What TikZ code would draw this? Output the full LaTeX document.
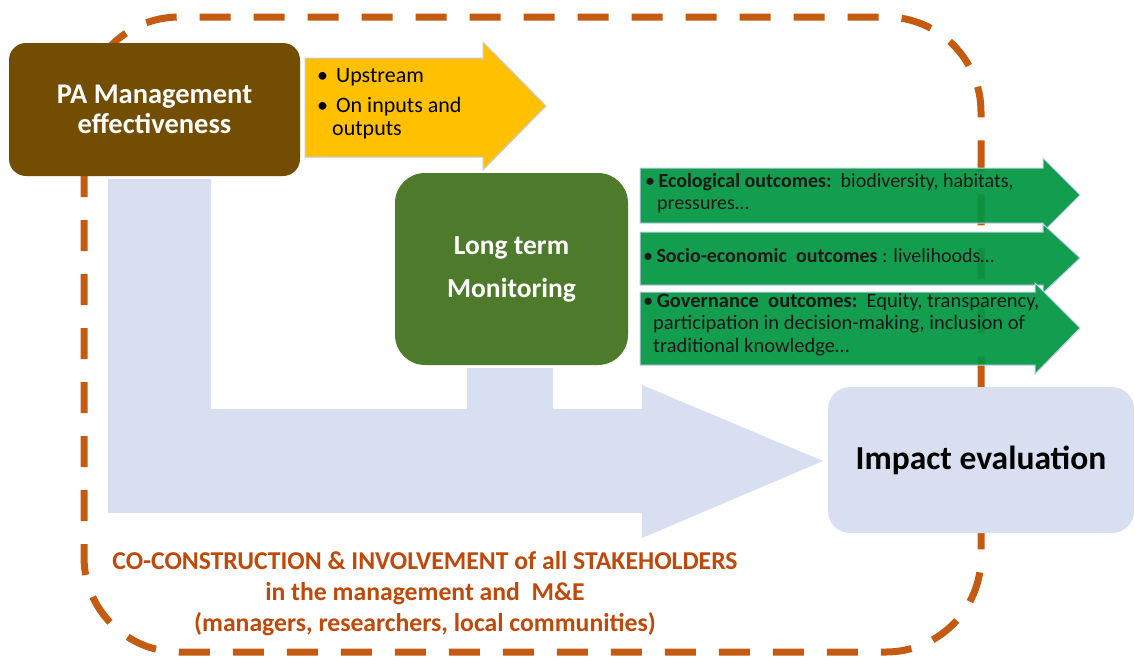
\documentclass[tikz,border=0pt]{standalone}
\usepackage{fontspec}
\setmainfont{Carlito}
\definecolor{pabrown}{RGB}{115,78,2}
\definecolor{ltmgreen}{RGB}{78,122,44}
\definecolor{ayellow}{RGB}{255,192,0}
\definecolor{agreen}{RGB}{0,150,66}
\definecolor{lblue}{RGB}{215,223,240}
\definecolor{dorange}{RGB}{197,90,17}
\definecolor{torange}{RGB}{192,72,8}
\definecolor{edgeblue}{RGB}{190,205,232}
\begin{document}
\begin{tikzpicture}[x=1pt,y=-1pt,
  box/.style={rounded corners=#1, inner sep=0pt, align=center},
  garrow/.style={fill=agreen, fill opacity=0.93, draw=edgeblue, line width=1pt},
  gtext/.style={anchor=north west, inner sep=0pt, align=left, text=black!90, font=\fontsize{20}{22}\selectfont},
  border/.style={draw=dorange, line width=7pt, dash pattern=on 31pt off 23pt, rounded corners=95pt}]
\useasboundingbox (0,0) rectangle (1135,659);
% big light-blue L arrow
\fill[lblue] (108,179) -- (211,179) -- (211,409) -- (467,409) -- (467,368) -- (553,368)
  -- (553,409) -- (642,409) -- (642,385) -- (823,461) -- (642,538) -- (642,513)
  -- (108,513) -- cycle;
% dashed stakeholder frame
\draw[border] (84,17) rectangle (981,652);
% green outcome arrows
\path[garrow] (640,168) -- (1043,168) -- (1043,158) -- (1080,195) -- (1043,232) -- (1043,223) -- (640,223) -- cycle;
\path[garrow] (640,232) -- (1043,232) -- (1043,224) -- (1080,258) -- (1043,293) -- (1043,285) -- (640,285) -- cycle;
\path[garrow] (640,292) -- (1035,292) -- (1035,283) -- (1080,328) -- (1035,374) -- (1035,365) -- (640,365) -- cycle;
% yellow arrow
\path[fill=ayellow, draw=edgeblue, line width=1pt] (305,58) -- (483,58) -- (483,42) -- (546,106) -- (483,170) -- (483,157) -- (305,157) -- cycle;
% boxes
\node[box=17pt, fill=pabrown, minimum width=291pt, minimum height=133pt, text=white,
  font=\bfseries\fontsize{28.5}{30}\selectfont] (pa) at (154.5,109.5) {PA Management\\effectiveness};
\node[box=30pt, fill=ltmgreen, minimum width=233pt, minimum height=192pt, text=white,
  font=\bfseries\fontsize{27.5}{43}\selectfont] (ltm) at (511.5,269) {Long term\\Monitoring};
\node[box=22pt, fill=lblue, minimum width=306pt, minimum height=146pt,
  font=\bfseries\fontsize{33.5}{36}\selectfont] (impact) at (981,460) {Impact evaluation};
% texts
\node[anchor=north west, inner sep=0pt, align=left, font=\fontsize{22}{23}\selectfont] (ytext) at (317,68)
  {\textbullet\hspace{8pt}Upstream\\[7pt]\textbullet\hspace{8pt}On inputs and\\\hspace{15pt}outputs};
\node[gtext] (eco) at (645,173)
  {\textbullet\,\textbf{Ecological outcomes:}\ \ biodiversity, habitats,\\\hspace{12pt}pressures…};
\node[gtext] (socio) at (643,248)
  {\textbullet\,\textbf{Socio-economic\ \ outcomes}\ : livelihoods…};
\node[gtext, font=\fontsize{20.5}{22.5}\selectfont] (gov) at (643,293)
  {\textbullet\,\textbf{Governance\ \ outcomes:}\ \ Equity, transparency,\\\hspace{10pt}participation in decision-making, inclusion of\\\hspace{10pt}traditional knowledge…};
\node[align=center, inner sep=0pt, text=torange, font=\bfseries\fontsize{25.7}{31}\selectfont] (stake) at (425,594)
  {CO-CONSTRUCTION \& INVOLVEMENT of all STAKEHOLDERS\\in the management and\ \ M\&E\\(managers, researchers, local communities)};
\end{tikzpicture}
\end{document}
